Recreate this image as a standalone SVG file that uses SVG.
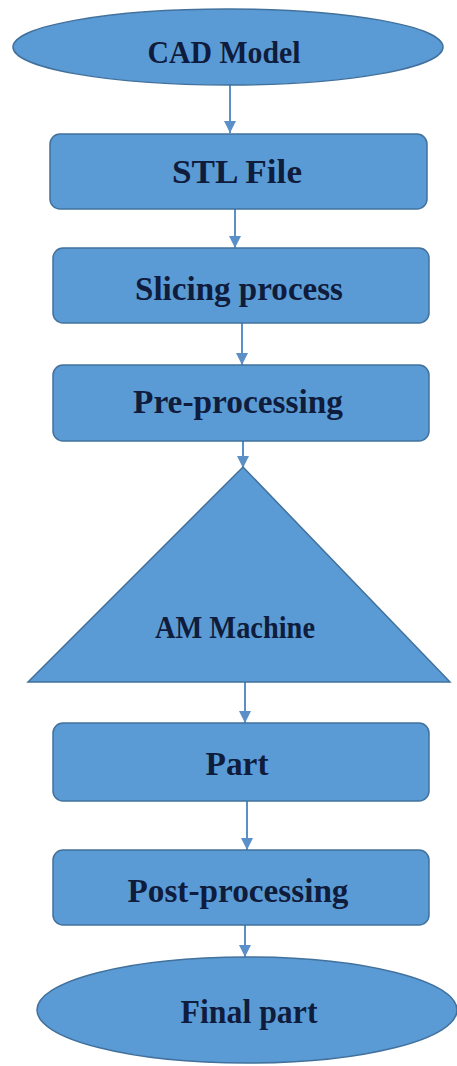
<svg xmlns="http://www.w3.org/2000/svg" width="457" height="1066" viewBox="0 0 457 1066">
<style>
.n{fill:#5b9bd5;stroke:#41719c;stroke-width:1.5}
.t{font-family:"Liberation Serif","Times New Roman",serif;font-weight:bold;font-size:33px;fill:#0f1c3c;text-anchor:middle}
.s{font-size:31px}
.c{stroke:#5b8fc8;stroke-width:2;fill:none}
</style>
<defs>
<marker id="ah" markerWidth="14" markerHeight="12" refX="12" refY="6" orient="auto" markerUnits="userSpaceOnUse">
<path d="M0,0 L12,6 L0,12 Z" fill="#5b8fc8"/>
</marker>
</defs>
<rect width="457" height="1066" fill="#ffffff"/>
<g id="connectors">
<line class="c" x1="230" y1="85" x2="230" y2="133" marker-end="url(#ah)"/>
<line class="c" x1="235" y1="209" x2="235" y2="248" marker-end="url(#ah)"/>
<line class="c" x1="242" y1="323" x2="242" y2="365" marker-end="url(#ah)"/>
<line class="c" x1="243" y1="441" x2="243" y2="468" marker-end="url(#ah)"/>
<line class="c" x1="245" y1="682" x2="245" y2="723" marker-end="url(#ah)"/>
<line class="c" x1="247" y1="801" x2="247" y2="850" marker-end="url(#ah)"/>
<line class="c" x1="245" y1="925" x2="245" y2="957" marker-end="url(#ah)"/>
</g>
<g id="cad-model">
<ellipse class="n" cx="228" cy="47" rx="215" ry="38"/>
<text class="t s" x="224" y="63" textLength="153" lengthAdjust="spacingAndGlyphs">CAD Model</text>
</g>
<g id="stl-file">
<rect class="n" x="50" y="134" width="377" height="75" rx="10"/>
<text class="t" x="237" y="183" textLength="130" lengthAdjust="spacingAndGlyphs">STL File</text>
</g>
<g id="slicing">
<rect class="n" x="53" y="248" width="376" height="75" rx="10"/>
<text class="t" x="239" y="300" textLength="208" lengthAdjust="spacingAndGlyphs">Slicing process</text>
</g>
<g id="pre-processing">
<rect class="n" x="53" y="365" width="376" height="76" rx="10"/>
<text class="t" x="238" y="413" textLength="210" lengthAdjust="spacingAndGlyphs">Pre-processing</text>
</g>
<g id="am-machine">
<polygon class="n" points="243,467 450,682 28,682"/>
<text class="t s" x="235" y="638" textLength="160" lengthAdjust="spacingAndGlyphs">AM Machine</text>
</g>
<g id="part">
<rect class="n" x="53" y="723" width="376" height="78" rx="10"/>
<text class="t" x="237" y="775" textLength="63" lengthAdjust="spacingAndGlyphs">Part</text>
</g>
<g id="post-processing">
<rect class="n" x="53" y="850" width="376" height="75" rx="10"/>
<text class="t" x="238" y="902" textLength="221" lengthAdjust="spacingAndGlyphs">Post-processing</text>
</g>
<g id="final-part">
<ellipse class="n" cx="247" cy="1010" rx="210" ry="53"/>
<text class="t" x="249" y="1023" textLength="137" lengthAdjust="spacingAndGlyphs">Final part</text>
</g>
</svg>
